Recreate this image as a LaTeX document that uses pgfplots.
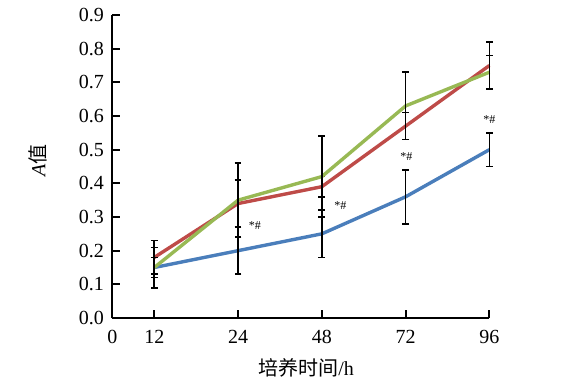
\documentclass[border=0pt]{standalone}
\usepackage{pgfplots}
\pgfplotsset{compat=1.18}
\usepackage{fontspec}
\setmainfont{Liberation Serif}
\newfontfamily\cjk{Noto Sans CJK SC}
\usetikzlibrary{calc}
\definecolor{sblue}{RGB}{74,126,187}
\definecolor{sred}{RGB}{190,75,72}
\definecolor{sgreen}{RGB}{152,185,84}
\begin{document}
\begin{tikzpicture}
\begin{axis}[
  scale only axis, width=377bp, height=303bp,
  axis lines=left, axis line style={-, line width=1.9bp},
  xmin=-0.5, xmax=4, ymin=0, ymax=0.9,
  xtick={-0.5,0,1,2,3,4}, xticklabels={0,12,24,48,72,96},
  ytick={0,0.1,...,0.9},
  /pgf/number format/assume math mode=true,
  tick align=inside, major tick length=8bp,
  tick style={line width=1.9bp, black},
  tick label style={font=\fontsize{20bp}{22bp}\selectfont},
  xticklabel style={yshift=-9bp},
  yticklabel style={xshift=-5bp, /pgf/number format/.cd, fixed, fixed zerofill, precision=1},
  xlabel={\cjk 培养时间\rmfamily/h},
  ylabel={\textit{A}\cjk 值},
  label style={font=\fontsize{20bp}{22bp}\selectfont},
  xlabel style={at={(axis description cs:0.514,-0.165)}, anchor=center},
  ylabel style={at={(axis description cs:-0.198,0.52)}, anchor=center},
  every axis plot/.append style={line width=3.4bp},
  error bars/y dir=both, error bars/y explicit,
  error bars/error bar style={black, line width=1.6bp},
  error bars/error mark options={rotate=90, mark size=3.4bp, black, line width=1.6bp},
  clip=false,
]
\addplot[sblue] coordinates {(0,0.15) +- (0,0.06) (1,0.20) +- (0,0.07) (2,0.25) +- (0,0.07) (3,0.36) +- (0,0.08) (4,0.50) +- (0,0.05)};
\addplot[sred] coordinates {(0,0.18) +- (0,0.05) (1,0.34) +- (0,0.07) (2,0.39) +- (0,0.03) (3,0.57) +- (0,0.04) (4,0.75) +- (0,0.07)};
\addplot[sgreen] coordinates {(0,0.15) +- (0,0.03) (1,0.35) +- (0,0.11) (2,0.42) +- (0,0.12) (3,0.63) +- (0,0.10) (4,0.73) +- (0,0.05)};
\node[font=\fontsize{12bp}{13bp}\selectfont] at (axis cs:1.2,0.275) {*\#};
\node[font=\fontsize{12bp}{13bp}\selectfont] at (axis cs:2.22,0.335) {*\#};
\node[font=\fontsize{12bp}{13bp}\selectfont] at (axis cs:3.01,0.48) {*\#};
\node[font=\fontsize{12bp}{13bp}\selectfont] at (axis cs:4.0,0.59) {*\#};
\end{axis}
\path[use as bounding box] ($(current axis.south west)+(-112.4bp,-64bp)$) rectangle ++(562bp,382bp);
\end{tikzpicture}
\end{document}
